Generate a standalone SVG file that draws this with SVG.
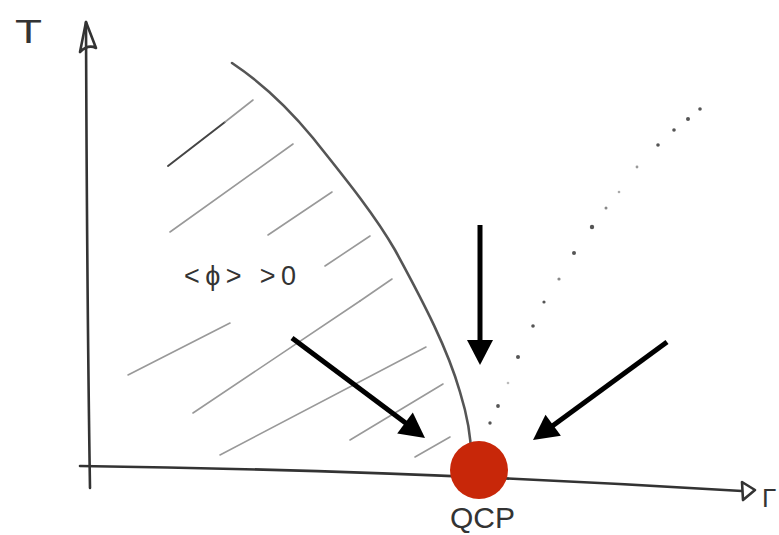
<svg xmlns="http://www.w3.org/2000/svg" width="779" height="535" viewBox="0 0 779 535">
<style>
.axis{fill:none;stroke:#333;stroke-width:2.6;stroke-linecap:round;stroke-linejoin:round}
.bound{fill:none;stroke:#555;stroke-width:2.6;stroke-linecap:round}
.hatch{fill:none;stroke:#999;stroke-width:1.6;stroke-linecap:round}
.hatchd{fill:none;stroke:#444;stroke-width:2;stroke-linecap:round}
.dot{fill:#555}
.arr{fill:none;stroke:#000;stroke-width:5}
.head{fill:#000}
.lbl{font-family:"Liberation Sans",Arial,sans-serif;fill:#333}
</style>
<rect width="779" height="535" fill="#fff"/>
<g id="axes">
<path class="axis" d="M90,488 Q87,300 86,22"/>
<path class="axis" d="M80,52 L86,22 L96,48 Q88,44 80,52"/>
<path class="axis" d="M80,466 Q400,470 742,491"/>
<path class="axis" d="M742,482 L755,490 L743,500 Z"/>
<text class="lbl" x="15" y="43" font-size="33" textLength="27" lengthAdjust="spacingAndGlyphs">T</text>
<text class="lbl" x="762" y="507" font-size="26">Γ</text>
</g>
<g id="hatching">
<path class="hatchd" d="M168,166 L225,122"/>
<path class="hatch" d="M225,122 L253,100"/>
<path class="hatch" d="M170,232 L293,144"/>
<path class="hatch" d="M268,235 L332,192"/>
<path class="hatch" d="M325,266 L370,236"/>
<path class="hatch" d="M128,375 L230,323"/>
<path class="hatch" d="M193,413 L360,301"/>
<path class="hatch" d="M360,301 L392,279" stroke="#666"/>
<path class="hatch" d="M220,455 L426,347"/>
<path class="hatch" d="M350,440 L443,384" stroke="#666"/>
<path class="hatch" d="M415,457 L450,437" stroke="#666"/>
</g>
<g id="boundary">
<path class="bound" d="M232,63 C265,85 290,110 313,138 C345,178 375,215 395,250 C425,305 448,350 460,392 C468,418 471,440 471,455"/>
</g>
<g id="crossover">
<circle class="dot" cx="700" cy="109" r="1.8"/>
<circle class="dot" cx="688" cy="119" r="2"/>
<circle class="dot" cx="674" cy="130" r="1.8"/>
<circle class="dot" cx="658" cy="145" r="1.8"/>
<circle class="dot" cx="637" cy="167" r="1.4" opacity="0.6"/>
<circle class="dot" cx="619" cy="192" r="1.3" opacity="0.5"/>
<circle class="dot" cx="606" cy="208" r="1.5" opacity="0.7"/>
<circle class="dot" cx="592" cy="227" r="2.2"/>
<circle class="dot" cx="574" cy="253" r="2"/>
<circle class="dot" cx="559" cy="279" r="1.6" opacity="0.7"/>
<circle class="dot" cx="544" cy="302" r="1.6"/>
<circle class="dot" cx="533" cy="326" r="1.8"/>
<circle class="dot" cx="518" cy="357" r="2"/>
<circle class="dot" cx="508" cy="383" r="1.3" opacity="0.4"/>
<circle class="dot" cx="498" cy="406" r="1.9"/>
<circle class="dot" cx="490" cy="423" r="1.7"/>
</g>
<g id="label-order">
<text class="lbl" x="184" y="285" font-size="27" textLength="112" lengthAdjust="spacing">&lt;ϕ&gt; &gt;0</text>
</g>
<g id="connectors">
<path class="arr" d="M480,225 L480,342"/>
<polygon class="head" points="467,340 493,340 480,365"/>
<path class="arr" d="M292,338 L407,424"/>
<polygon class="head" points="397.2,433.4 412.8,412.6 425,438"/>
<path class="arr" d="M667,342 L551,427"/>
<polygon class="head" points="560.9,435.7 545.5,414.7 533,440"/>
</g>
<g id="qcp">
<circle cx="479" cy="470" r="29" fill="#c82709"/>
<text class="lbl" x="450" y="528" font-size="30" textLength="65" lengthAdjust="spacingAndGlyphs" fill="#444">QCP</text>
</g>
</svg>
